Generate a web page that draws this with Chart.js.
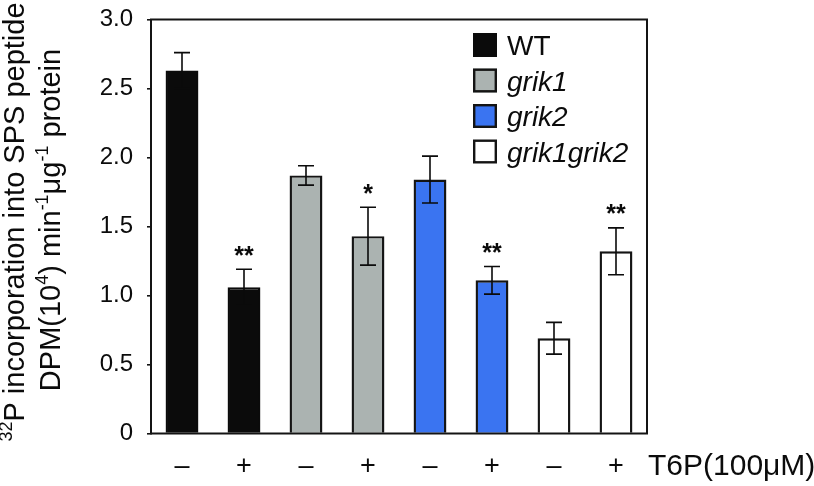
<!DOCTYPE html>
<html>
<head>
<meta charset="utf-8">
<script src="https://cdn.jsdelivr.net/npm/chart.js@4.4.1/dist/chart.umd.min.js"></script>
<style>
  html, body { margin: 0; padding: 0; background: #fff; }
  #wrap { width: 814px; height: 486px; position: relative; }
</style>
</head>
<body>
<div id="wrap"><canvas id="c" width="814" height="486"></canvas></div>
<script>
// ---- data ----
const t6pLabels   = ['–', '+', '–', '+', '–', '+', '–', '+'];
const genotypes   = ['WT', 'grik1', 'grik2', 'grik1grik2'];
const barGenotype = [0, 0, 1, 1, 2, 2, 3, 3];
const values      = [2.63, 1.06, 1.87, 1.43, 1.84, 1.11, 0.69, 1.32];
const errors      = [0.13, 0.13, 0.07, 0.21, 0.17, 0.10, 0.115, 0.17];
const stars       = ['', '**', '', '*', '', '**', '', '**'];
const yTicks      = [0, 0.5, 1.0, 1.5, 2.0, 2.5, 3.0];
const xAxisNote   = 'T6P(100\u03BCM)';
const yTitle1     = [['32', true], ['P incorporation into SPS peptide', false]];
const yTitle2     = [['DPM(10', false], ['4', true], [') min', false], ['-1', true], ['\u03BCg', false], ['-1', true], [' protein', false]];

// ---- styles ----
const FONT = '"Liberation Sans", Arial, Helvetica, sans-serif';
const INK = '#0b0b0b';
const fills   = ['#0b0b0b', '#abb3b1', '#3a74f1', '#ffffff'];
const strokes = ['#0b0b0b', '#141414', '#141414', '#141414'];
const italicName = [false, true, true, true];

const extras = {
  id: 'extras',
  afterDatasetsDraw(chart) {
    const ctx = chart.ctx;
    const ca = chart.chartArea;
    const x = chart.scales.x, y = chart.scales.y;
    ctx.save();
    // error bars
    ctx.strokeStyle = INK;
    ctx.lineWidth = 1.6;
    values.forEach((v, i) => {
      const cx = x.getPixelForValue(i);
      const yt = y.getPixelForValue(v + errors[i]);
      const yb = y.getPixelForValue(v - errors[i]);
      ctx.beginPath();
      ctx.moveTo(cx, yt); ctx.lineTo(cx, yb);
      ctx.moveTo(cx - 8, yt); ctx.lineTo(cx + 8, yt);
      ctx.moveTo(cx - 8, yb); ctx.lineTo(cx + 8, yb);
      ctx.stroke();
      if (stars[i]) {
        ctx.fillStyle = INK;
        ctx.font = 'bold 25px ' + FONT;
        ctx.textAlign = 'center';
        ctx.textBaseline = 'alphabetic';
        ctx.fillText(stars[i], cx, yt - 5.5);
      }
    });
    // frame
    ctx.strokeStyle = '#141414';
    ctx.lineWidth = 2;
    ctx.strokeRect(ca.left, ca.top, ca.right - ca.left, ca.bottom - ca.top);
    // legend
    const lx = 473, ly0 = 45, dy = 35.5, sq = 24;
    genotypes.forEach((g, k) => {
      const cy = ly0 + k * dy;
      ctx.fillStyle = fills[k];
      ctx.fillRect(lx, cy - sq / 2, sq, sq);
      ctx.strokeStyle = strokes[k];
      ctx.lineWidth = 2.4;
      ctx.strokeRect(lx + 1.2, cy - sq / 2 + 1.2, sq - 2.4, sq - 2.4);
      ctx.fillStyle = INK;
      ctx.font = (italicName[k] ? 'italic ' : '') + '28px ' + FONT;
      ctx.textAlign = 'left';
      ctx.textBaseline = 'alphabetic';
      ctx.fillText(g, lx + 34, cy + 10);
    });
    // T6P note
    ctx.font = '30px ' + FONT;
    ctx.fillStyle = INK;
    ctx.textAlign = 'left';
    ctx.textBaseline = 'middle';
    ctx.fillText(xAxisNote, ca.right + 1, 467);
    // y title
    function rich(segs, size, baseX, centerY) {
      ctx.save();
      ctx.translate(baseX, centerY);
      ctx.rotate(-Math.PI / 2);
      let total = 0;
      segs.forEach(([t, sup]) => {
        ctx.font = (sup ? size * 0.62 : size) + 'px ' + FONT;
        total += ctx.measureText(t).width;
      });
      let px = -total / 2;
      ctx.textAlign = 'left';
      ctx.textBaseline = 'alphabetic';
      ctx.fillStyle = INK;
      segs.forEach(([t, sup]) => {
        ctx.font = (sup ? size * 0.62 : size) + 'px ' + FONT;
        ctx.fillText(t, px, sup ? -size * 0.42 : 0);
        px += ctx.measureText(t).width;
      });
      ctx.restore();
    }
    rich(yTitle1, 29, 24, 222);
    rich(yTitle2, 29, 60, 220);
    ctx.restore();
  }
};

new Chart(document.getElementById('c'), {
  type: 'bar',
  data: {
    labels: t6pLabels,
    datasets: [{
      data: values,
      backgroundColor: barGenotype.map(g => fills[g]),
      borderColor: barGenotype.map(g => strokes[g]),
      borderWidth: 2.4,
      barPercentage: 0.53,
      categoryPercentage: 1.0
    }]
  },
  options: {
    responsive: false,
    animation: false,
    devicePixelRatio: 1,
    layout: { padding: { top: 19.5, right: 167, left: 0, bottom: 0 } },
    plugins: { legend: { display: false }, tooltip: { enabled: false } },
    scales: {
      x: {
        grid: { display: false, drawTicks: false },
        border: { display: false },
        ticks: { color: INK, font: { family: FONT, size: 27 }, padding: 17, maxRotation: 0 },
        afterFit(s) { s.height = 52.5; s.paddingLeft = 0; s.paddingRight = 0; }
      },
      y: {
        min: 0, max: 3.0,
        afterBuildTicks(s) { s.ticks = yTicks.map(v => ({ value: v })); },
        grid: { display: true, drawOnChartArea: false, drawTicks: true, tickLength: 4, color: '#141414', lineWidth: 1.6 },
        border: { display: true, color: '#141414', width: 2 },
        ticks: {
          color: INK, font: { family: FONT, size: 24 }, padding: 14,
          callback: v => v === 0 ? '0' : v.toFixed(1)
        },
        afterFit(s) { s.width = 151; s.paddingTop = 0; s.paddingBottom = 0; }
      }
    }
  },
  plugins: [extras]
});
</script>
</body>
</html>
